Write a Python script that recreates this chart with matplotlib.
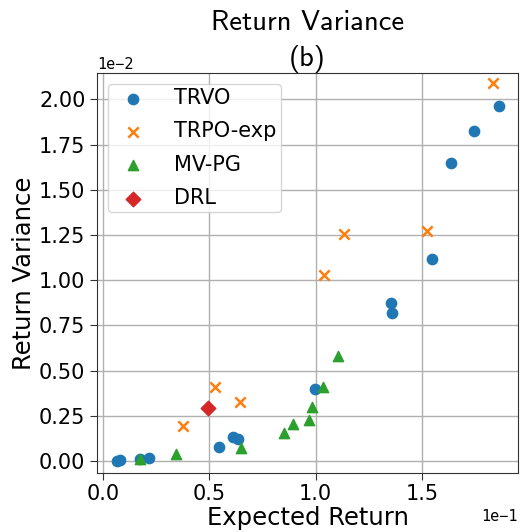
import matplotlib
matplotlib.use("Agg")
import matplotlib.pyplot as plt
from matplotlib.font_manager import FontProperties
import numpy as np
import os

# Data (displayed units: x in 1e-1, y in 1e-2)
trvo_x = [0.065, 0.08, 0.175, 0.215, 0.543, 0.612, 0.636, 0.997, 1.353, 1.358, 1.546, 1.637, 1.743, 1.865]
trvo_y = [0.002, 0.003, 0.012, 0.015, 0.076, 0.135, 0.124, 0.398, 0.874, 0.817, 1.115, 1.646, 1.828, 1.961]
trpo_x = [0.374, 0.527, 0.645, 1.041, 1.135, 1.523, 1.834]
trpo_y = [0.191, 0.407, 0.326, 1.026, 1.257, 1.274, 2.089]
mvpg_x = [0.173, 0.341, 0.650, 0.852, 0.892, 0.967, 0.981, 1.036, 1.107]
mvpg_y = [0.010, 0.040, 0.073, 0.157, 0.207, 0.225, 0.296, 0.410, 0.583]
drl_x = [0.495]
drl_y = [0.293]

XS, YS = 1e-1, 1e-2

fig = plt.figure(figsize=(5.2, 5.32), dpi=100)
ax = fig.add_axes([0.187, 0.1115, 0.996 - 0.187, 0.862 - 0.1115])

s = 55
ax.scatter(np.array(trvo_x) * XS, np.array(trvo_y) * YS, marker='o', color='#1f77b4', s=s, label='TRVO', zorder=3)
ax.scatter(np.array(trpo_x) * XS, np.array(trpo_y) * YS, marker='x', color='#ff7f0e', s=s, linewidths=1.8, label='TRPO-exp', zorder=3)
ax.scatter(np.array(mvpg_x) * XS, np.array(mvpg_y) * YS, marker='^', color='#2ca02c', s=s, label='MV-PG', zorder=3)
ax.scatter(np.array(drl_x) * XS, np.array(drl_y) * YS, marker='D', color='#d62728', s=s, label='DRL', zorder=3)

ax.set_xlim(-0.028 * XS, 1.952 * XS)
ax.set_ylim(-0.065 * YS, 2.144 * YS)
ax.set_xticks(np.arange(0, 1.6, 0.5) * XS)
ax.set_yticks(np.arange(0, 2.01, 0.25) * YS)
ax.ticklabel_format(style='sci', axis='both', scilimits=(0, 0))

ax.grid(True, color='#b0b0b0', linewidth=1.0, zorder=0)
ax.set_axisbelow(True)
for sp in ax.spines.values():
    sp.set_color('#333333')
ax.tick_params(labelsize=15, length=5, color='#333333')
for ot in (ax.xaxis.get_offset_text(), ax.yaxis.get_offset_text()):
    ot.set_fontsize(11)
    ot.set_family('DejaVu Sans Mono')

ax.set_xlabel('Expected Return', fontsize=17.5, labelpad=1)
ax.set_ylabel('Return Variance', fontsize=17.5, labelpad=2)

cmss_path = os.path.join(matplotlib.get_data_path(), 'fonts', 'ttf', 'cmss10.ttf')
if os.path.exists(cmss_path):
    tfp = FontProperties(fname=cmss_path, size=20.5)
else:
    tfp = FontProperties(family='DejaVu Sans', size=18)
ax.set_title('Return Variance\n(b)', fontproperties=tfp, pad=3, linespacing=1.5)

leg = ax.legend(loc='upper left', fontsize=15, handlelength=2.0, handletextpad=1.0,
                borderpad=0.2, labelspacing=0.64, frameon=True)

fig.savefig('out.png', dpi=100)
